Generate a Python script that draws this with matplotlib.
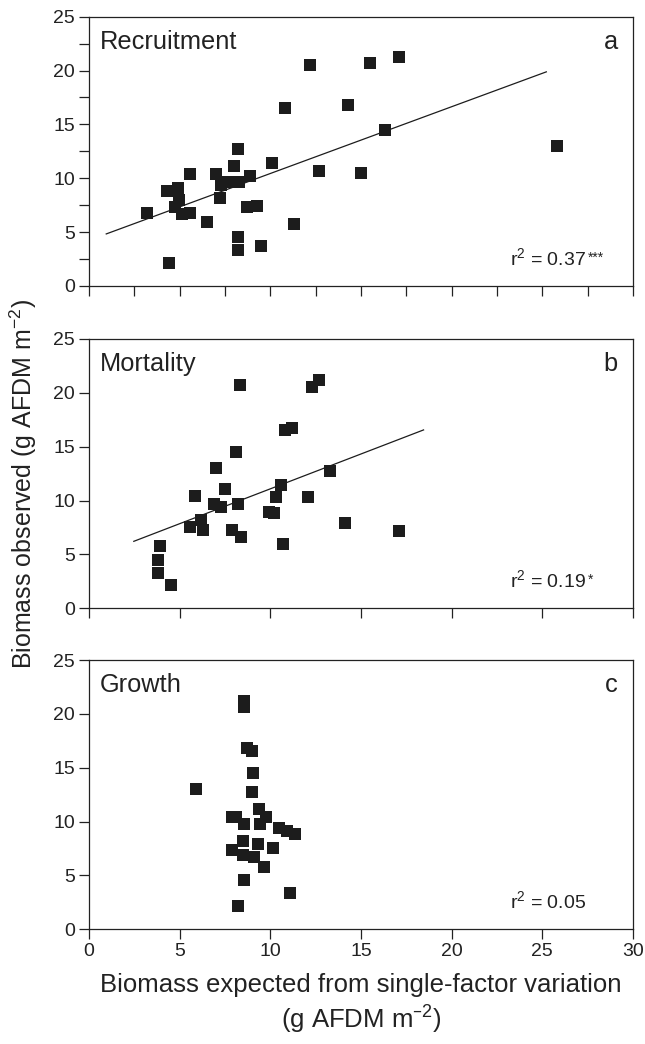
import numpy as np
import matplotlib
matplotlib.use("Agg")
import matplotlib.pyplot as plt
from matplotlib.ticker import MultipleLocator

plt.rcParams['font.family'] = ['Liberation Sans', 'DejaVu Sans']
plt.rcParams['mathtext.default'] = 'regular'

# panel a: recruitment
rec_x = [3.19, 4.32, 4.89, 4.42, 4.99, 4.74, 5.12, 5.59, 5.59, 6.50, 7.00, 7.21, 7.30, 7.68,
         7.96, 8.00, 8.19, 8.29, 8.19, 8.19, 8.88, 8.69, 9.29, 9.48, 10.11, 10.81, 11.28, 12.19,
         12.71, 14.30, 15.00, 15.49, 16.31, 17.11, 25.79]
rec_y = [6.81, 8.82, 9.07, 2.17, 7.99, 7.31, 6.66, 6.75, 10.37, 5.98, 10.40, 8.14, 9.38, 9.69,
         9.69, 11.15, 12.72, 9.69, 4.52, 3.34, 10.22, 7.31, 7.46, 3.72, 11.39, 16.50, 5.76, 20.53,
         10.71, 16.81, 10.46, 20.74, 14.49, 21.24, 13.03]
rec_fit_x = [0.95, 25.22]
rec_fit_y = [4.83, 19.88]

# panel b: mortality
mor_x = [8.31, 12.71, 12.29, 11.19, 10.83, 8.12, 7.00, 7.49, 5.82, 10.60, 10.30, 13.29, 12.10,
         6.92, 7.30, 8.19, 9.92, 10.20, 6.20, 5.59, 6.31, 7.87, 8.40, 10.70, 14.09, 17.11,
         3.93, 3.81, 3.81, 4.51]
mor_y = [20.74, 21.21, 20.53, 16.78, 16.53, 14.49, 13.00, 11.08, 10.46, 11.46, 10.37, 12.72,
         10.34, 9.69, 9.38, 9.69, 8.98, 8.82, 8.20, 7.52, 7.28, 7.28, 6.66, 5.98, 7.89, 7.21,
         5.76, 4.49, 3.28, 2.17]
mor_fit_x = [2.47, 18.45]
mor_fit_y = [6.22, 16.56]

# panel c: growth
gro_x = [8.53, 8.52, 8.69, 8.97, 9.07, 5.88, 8.99, 9.39, 7.87, 8.10, 9.77, 8.52, 9.43, 10.49,
         10.90, 11.37, 8.50, 9.31, 10.15, 7.87, 8.48, 9.10, 9.67, 8.52, 11.09, 8.19]
gro_y = [21.15, 20.62, 16.87, 16.56, 14.55, 13.03, 12.76, 11.15, 10.46, 10.40, 10.46, 9.78,
         9.78, 9.44, 9.13, 8.85, 8.24, 7.93, 7.52, 7.37, 6.90, 6.75, 5.82, 4.58, 3.34, 2.20]

panels = [
    ("Recruitment", "a", "r$^{2}$ = 0.37", "***", rec_x, rec_y, rec_fit_x, rec_fit_y),
    ("Mortality", "b", "r$^{2}$ = 0.19", "*", mor_x, mor_y, mor_fit_x, mor_fit_y),
    ("Growth", "c", "r$^{2}$ = 0.05", "", gro_x, gro_y, None, None),
]

fig = plt.figure(figsize=(6.45, 10.44), dpi=100)
left, width = 0.138, 0.8434
boxes = [(0.7261, 0.984), (0.4173, 0.6753), (0.1099, 0.3678)]
col = '#1c1c1c'
txtcol = '#222222'

axes = []
for i, (name, letter, rtxt, stars, xs, ys, fx, fy) in enumerate(panels):
    b, t = boxes[i]
    ax = fig.add_axes([left, b, width, t - b])
    ax.plot(xs, ys, 's', color=col, markersize=8.6, markeredgewidth=0, zorder=3)
    if fx is not None:
        ax.plot(fx, fy, '-', color=col, linewidth=0.9, zorder=2)
    ax.set_xlim(0, 30)
    ax.set_ylim(0, 25)
    ax.xaxis.set_major_locator(MultipleLocator(5))
    ax.yaxis.set_major_locator(MultipleLocator(5))
    if i == 0:
        ax.xaxis.set_minor_locator(MultipleLocator(2.5))
        ax.yaxis.set_minor_locator(MultipleLocator(2.5))
    ax.tick_params(which='both', direction='out', length=7, width=0.9, color=txtcol,
                   labelsize=14, pad=3, labelcolor=txtcol)
    if i < 2:
        ax.tick_params(axis='x', labelbottom=False)
    for s in ax.spines.values():
        s.set_linewidth(0.9)
        s.set_color(txtcol)
    ax.text(0.02, 0.88, name, transform=ax.transAxes, fontsize=18.3, color=txtcol)
    ax.text(0.972, 0.88, letter, transform=ax.transAxes, fontsize=18.3, ha='right', color=txtcol)
    rt = ax.text(0.774, 0.078, rtxt, transform=ax.transAxes, fontsize=14, ha='left', color=txtcol)
    if stars:
        # small raised asterisks after the r2 value
        ax.annotate(stars, xy=(1.0, 0.2), xycoords=rt, xytext=(1, 0), textcoords='offset points',
                    fontsize=10, ha='left', va='bottom', color=txtcol)
    axes.append(ax)

axes[2].set_xlabel("Biomass expected from single-factor variation\n(g AFDM m$^{\u20132}$)",
                   fontsize=18.5, labelpad=9, color=txtcol, linespacing=1.3)
fig.text(0.036, 0.536, "Biomass observed (g AFDM m$^{\u22122}$)", rotation=90, fontsize=18,
         ha='center', va='center', color=txtcol)

fig.savefig("out.png", dpi=100)
